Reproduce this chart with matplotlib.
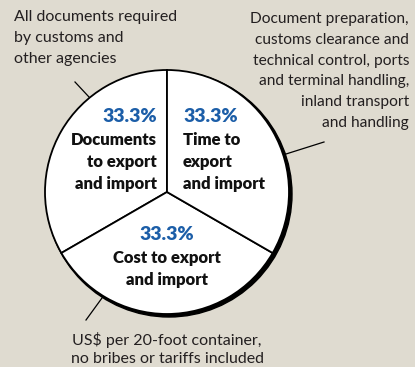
import matplotlib.pyplot as plt
from matplotlib.patches import Circle

shares = [33.3, 33.3, 33.3]
slice_names = ["Documents\nto export\nand import", "Cost to export\nand import", "Time to\nexport\nand import"]
note_left = "All documents required\nby customs and\nother agencies"
note_right = ("Document preparation,\ncustoms clearance and\ntechnical control, ports\n"
              "and terminal handling,\ninland transport\nand handling")
note_bottom = "US$ per 20-foot container,\nno bribes or tariffs included"

bg = "#dfdbd0"
blue = "#1c5ea8"
plt.rcParams["font.family"] = ["Lato", "DejaVu Sans"]

fig = plt.figure(figsize=(4.15, 3.67), dpi=100, facecolor=bg)
ax = fig.add_axes([0, 0, 1, 1])
ax.set_facecolor(bg)

cx, cy, r = 167, 175, 122

# shadow ring on the lower right
ax.add_patch(Circle((cx + 2, cy - 2), r + 1, color="black", zorder=1))
ax.pie(shares, startangle=90, counterclock=True, center=(cx, cy), radius=r,
       colors=["white"] * 3, wedgeprops=dict(edgecolor="black", linewidth=1.3),
       frame=True)
ax.set_xlim(0, 415)
ax.set_ylim(0, 367)
ax.set_aspect("equal")
ax.axis("off")

# slice labels
pct = dict(color=blue, fontsize=14, fontweight="heavy", va="center")
lab = dict(fontsize=12, fontweight="heavy", va="center", linespacing=1.46, color="#111111")
ax.text(157, 251, f"{shares[0]}%", ha="right", **pct)
ax.text(157, 205, slice_names[0], ha="right", **lab)
ax.text(183, 251, f"{shares[2]}%", ha="left", **pct)
ax.text(183, 205, slice_names[2], ha="left", **lab)
ax.text(167, 132, f"{shares[1]}%", ha="center", **pct)
ax.text(167, 98, slice_names[1], ha="center", **lab)

# notes
note = dict(fontsize=11.5, color="#231f20", va="center")
ax.text(14, 329, note_left, ha="left", linespacing=1.62, **note)
ax.text(409, 296, note_right, ha="right", fontsize=11.2, linespacing=1.62, color="#231f20", va="center")
ax.text(167, 18, note_bottom, ha="center", linespacing=1.42, **note)

# leader lines
ax.plot([75, 89], [367 - 82, 367 - 97], color="black", lw=0.9)
ax.plot([324, 286], [367 - 142, 367 - 154], color="black", lw=0.9)
ax.plot([102, 86], [367 - 298, 367 - 320], color="black", lw=0.9)

fig.savefig("out.png", dpi=100, facecolor=bg)
